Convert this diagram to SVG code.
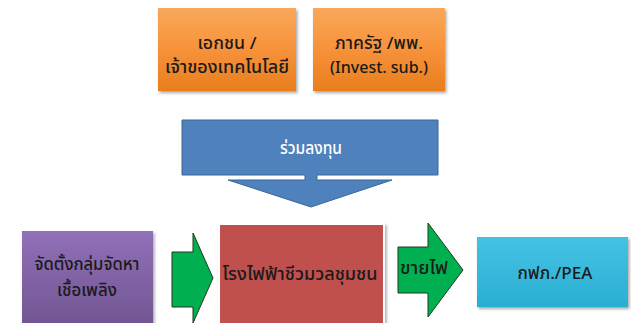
<svg xmlns="http://www.w3.org/2000/svg" width="631" height="323" viewBox="0 0 631 323">
<defs>
<linearGradient id="gOr" x1="0" y1="0" x2="0" y2="1"><stop offset="0" stop-color="#F9A85A"/><stop offset="0.5" stop-color="#F7923A"/><stop offset="1" stop-color="#E87E1E"/></linearGradient>
<linearGradient id="gPu" x1="0" y1="0" x2="0" y2="1"><stop offset="0" stop-color="#9170B8"/><stop offset="1" stop-color="#6F5490"/></linearGradient>
<linearGradient id="gCy" x1="0" y1="0" x2="0" y2="1"><stop offset="0" stop-color="#45C3E4"/><stop offset="1" stop-color="#2AAED2"/></linearGradient>
<filter id="sh" x="-10%" y="-10%" width="130%" height="130%"><feDropShadow dx="1.5" dy="2" stdDeviation="1.5" flood-color="#000" flood-opacity="0.35"/></filter>
</defs>
<style>
text{font-family:"Noto Sans Thai","Noto Sans","DejaVu Sans",sans-serif;text-anchor:middle;dominant-baseline:central;font-size:17px;font-weight:500;}
.t{fill:#1a1a1a;}
.w{fill:#ffffff;}
.box{filter:url(#sh);}
</style>
<g id="node-private">
<rect class="box" x="158" y="8" width="138" height="83" fill="url(#gOr)"/>
<text class="t" x="227" y="44" textLength="59" lengthAdjust="spacingAndGlyphs">เอกชน /</text>
<text class="t" x="227" y="68" textLength="124" lengthAdjust="spacingAndGlyphs">เจ้าของเทคโนโลยี</text>
</g>
<g id="node-gov">
<rect class="box" x="313" y="8" width="132" height="83" fill="url(#gOr)"/>
<text class="t" x="379" y="44" textLength="88" lengthAdjust="spacingAndGlyphs">ภาครัฐ /พพ.</text>
<text class="t" x="379" y="68" textLength="98" lengthAdjust="spacingAndGlyphs">(Invest. sub.)</text>
</g>
<g id="node-invest">
<path d="M182,120 H438 V175 H317 V180 H392 L311,207 L228,180 H305 V175 H182 Z" fill="#4F81BD" stroke="#3A6699" stroke-width="1"/>
<text class="w" x="311" y="149" textLength="62" lengthAdjust="spacingAndGlyphs">ร่วมลงทุน</text>
</g>
<g id="node-fuel">
<rect class="box" x="22" y="231" width="131" height="100" fill="url(#gPu)"/>
<text class="t" x="87" y="265" textLength="105" lengthAdjust="spacingAndGlyphs">จัดตั้งกลุ่มจัดหา</text>
<text class="t" x="87" y="291" textLength="60" lengthAdjust="spacingAndGlyphs">เชื้อเพลิง</text>
</g>
<g id="node-plant">
<rect x="218" y="223" width="167" height="105" fill="#ffffff" filter="url(#sh)"/>
<rect x="220" y="225" width="163" height="100" fill="#C0504D"/>
<text class="t" x="300" y="275" textLength="155" lengthAdjust="spacingAndGlyphs">โรงไฟฟ้าชีวมวลชุมชน</text>
</g>
<g id="node-pea">
<rect class="box" x="477" y="237" width="151" height="70" fill="url(#gCy)"/>
<text class="t" x="555" y="274" textLength="75" lengthAdjust="spacingAndGlyphs">กฟภ./PEA</text>
</g>
<g id="connectors">
<path d="M172,252 H193 V233 L213,278 L193,323 V307 H172 Z" fill="#00B050" stroke="#1E3A1E" stroke-width="1"/>
<path d="M398,247 H428 V223 L463,270 L428,317 V293 H398 Z" fill="#00B050" stroke="#1E3A1E" stroke-width="1"/>
<text class="t" x="424" y="269" textLength="48" lengthAdjust="spacingAndGlyphs">ขายไฟ</text>
</g>
</svg>
